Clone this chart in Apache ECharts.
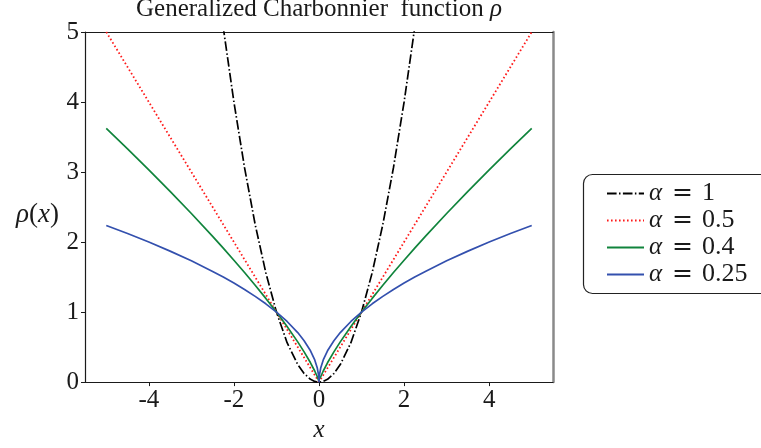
<!DOCTYPE html>
<html>
<head>
<meta charset="utf-8">
<script src="https://cdn.jsdelivr.net/npm/echarts@6/dist/echarts.min.js"></script>
<style>
  html, body { margin: 0; padding: 0; background: #fff; }
  #chart { width: 761px; height: 448px; }
</style>
</head>
<body>
<div id="chart"></div>
<script>
// Sample positions along x shared by every curve
const xs = [-5, -4.5, -4, -3.5, -3, -2.5, -2.25, -2, -1.75, -1.5, -1.25, -1, -0.75, -0.5, -0.35, -0.2, -0.1, -0.04, -0.01,
            0,
            0.01, 0.04, 0.1, 0.2, 0.35, 0.5, 0.75, 1, 1.25, 1.5, 1.75, 2, 2.25, 2.5, 3, 3.5, 4, 4.5, 5];

// rho(x) for each alpha
const rhoAlpha1 = [25, 20.25, 16, 12.25, 9, 6.25, 5.0625, 4, 3.0625, 2.25, 1.5625, 1, 0.5625, 0.25, 0.1225, 0.04, 0.01, 0.0016, 0.0001,
                   0,
                   0.0001, 0.0016, 0.01, 0.04, 0.1225, 0.25, 0.5625, 1, 1.5625, 2.25, 3.0625, 4, 5.0625, 6.25, 9, 12.25, 16, 20.25, 25];
const rhoAlpha05 = [5, 4.5, 4, 3.5, 3, 2.5, 2.25, 2, 1.75, 1.5, 1.25, 1, 0.75, 0.5, 0.35, 0.2, 0.1, 0.04, 0.01,
                    0,
                    0.01, 0.04, 0.1, 0.2, 0.35, 0.5, 0.75, 1, 1.25, 1.5, 1.75, 2, 2.25, 2.5, 3, 3.5, 4, 4.5, 5];
const rhoAlpha04 = [3.6239, 3.3311, 3.0314, 2.7243, 2.4082, 2.0814, 1.9131, 1.7411, 1.5647, 1.3832, 1.1954, 1, 0.7944, 0.5743, 0.4318, 0.2759, 0.1585, 0.0762, 0.0251,
                    0,
                    0.0251, 0.0762, 0.1585, 0.2759, 0.4318, 0.5743, 0.7944, 1, 1.1954, 1.3832, 1.5647, 1.7411, 1.9131, 2.0814, 2.4082, 2.7243, 3.0314, 3.3311, 3.6239];
const rhoAlpha025 = [2.2361, 2.1213, 2, 1.8708, 1.7321, 1.5811, 1.5, 1.4142, 1.3229, 1.2247, 1.118, 1, 0.866, 0.7071, 0.5916, 0.4472, 0.3162, 0.2, 0.1,
                     0,
                     0.1, 0.2, 0.3162, 0.4472, 0.5916, 0.7071, 0.866, 1, 1.118, 1.2247, 1.3229, 1.4142, 1.5, 1.5811, 1.7321, 1.8708, 2, 2.1213, 2.2361];

const xTicks = [-4, -2, 0, 2, 4];
const seriesNames = ['α = 1', 'α = 0.5', 'α = 0.4', 'α = 0.25'];

const pairs = ys => xs.map((x, i) => [x, ys[i]]);
const SERIF = '"Liberation Serif", "DejaVu Serif", serif';
const INK = '#1a1a1a';

const chart = echarts.init(document.getElementById('chart'), null, { renderer: 'canvas' });

const lineSeries = (name, ys, color, type, width) => ({
  name,
  type: 'line',
  data: pairs(ys),
  showSymbol: false,
  symbol: 'none',
  clip: true,
  animation: false,
  lineStyle: { color, width, type, cap: 'butt' },
  itemStyle: { color },
  z: 3
});

chart.setOption({
  animation: false,
  backgroundColor: '#fff',
  title: {
    text: 'Generalized Charbonnier  function {r|ρ}',
    left: 319,
    textAlign: 'center',
    top: -3,
    padding: 0,
    textStyle: {
      fontFamily: SERIF,
      fontSize: 25,
      fontWeight: 'normal',
      color: INK,
      rich: { r: { fontFamily: SERIF, fontStyle: 'italic', fontSize: 25, color: INK } }
    }
  },
  // legend frame, running past the right edge of the canvas
  graphic: {
    elements: [{
      type: 'rect',
      shape: { x: 583.5, y: 174.5, width: 260, height: 119, r: 9 },
      style: { fill: '#fff', stroke: '#222', lineWidth: 1.2 },
      z: 10,
      silent: true
    }]
  },
  grid: { left: 85, right: 208, top: 32, bottom: 56, containLabel: false },
  legend: {
    orient: 'vertical',
    left: 583,
    top: 175,
    padding: [5, 5, 5, 23],
    itemGap: 0,
    itemWidth: 37,
    itemHeight: 4,
    z: 20,
    data: seriesNames,
    itemStyle: { opacity: 0 },
    formatter: n => {
      const parts = n.split(' = ');
      return '{a|' + parts[0] + '}{e|=}{b|' + parts[1] + '}';
    },
    textStyle: {
      lineHeight: 27,
      rich: {
        a: { fontFamily: SERIF, fontStyle: 'italic', fontSize: 25, color: INK, lineHeight: 27 },
        e: { fontFamily: '"DejaVu Serif", serif', fontSize: 25, color: INK, lineHeight: 27, padding: [0, 9, 0, 10] },
        b: { fontFamily: SERIF, fontSize: 26, color: INK, lineHeight: 27 }
      }
    }
  },
  xAxis: [{
    type: 'value',
    min: -5.5,
    max: 5.5,
    position: 'bottom',
    name: 'x',
    nameLocation: 'middle',
    nameGap: 29,
    nameTextStyle: { fontFamily: SERIF, fontStyle: 'italic', fontSize: 25, color: INK },
    axisLine: { show: true, onZero: false, lineStyle: { color: INK, width: 1.2 } },
    axisTick: { show: true, customValues: xTicks, length: 4, inside: false, lineStyle: { color: INK, width: 1 } },
    axisLabel: {
      customValues: xTicks,
      formatter: v => String(v),
      margin: 6,
      fontFamily: SERIF, fontSize: 25, color: INK
    },
    splitLine: { show: false }
  }, {
    type: 'value',
    min: -5.5,
    max: 5.5,
    position: 'top',
    axisLine: { show: true, onZero: false, lineStyle: { color: INK, width: 1.2 } },
    axisTick: { show: false },
    axisLabel: { show: false },
    splitLine: { show: false }
  }],
  yAxis: [{
    type: 'value',
    min: 0,
    max: 5,
    interval: 1,
    position: 'left',
    name: '{r|ρ}{n|(}{r|x}{n|)}',
    nameLocation: 'middle',
    nameRotate: 0,
    nameGap: 26,
    nameTextStyle: {
      padding: [16, 0, 0, 0],
      rich: {
        r: { fontFamily: SERIF, fontStyle: 'italic', fontSize: 27, color: INK },
        n: { fontFamily: SERIF, fontSize: 27, color: INK }
      }
    },
    axisLine: { show: true, onZero: false, lineStyle: { color: INK, width: 1.2 } },
    axisTick: { show: true, length: 4, inside: false, lineStyle: { color: INK, width: 1 } },
    axisLabel: { margin: 6, fontFamily: SERIF, fontSize: 25, color: INK },
    splitLine: { show: false }
  }, {
    type: 'value',
    min: 0,
    max: 5,
    interval: 1,
    position: 'right',
    axisLine: { show: true, onZero: false, lineStyle: { color: '#8a8a8a', width: 2.5 } },
    axisTick: { show: false },
    axisLabel: { show: false },
    splitLine: { show: false }
  }],
  series: [
    lineSeries(seriesNames[0], rhoAlpha1, '#000000', [9.6, 2.4, 1.5, 2.4], 1.7),
    lineSeries(seriesNames[1], rhoAlpha05, '#ff1a1a', [1.6, 2.4], 1.8),
    lineSeries(seriesNames[2], rhoAlpha04, '#10843c', 'solid', 1.7),
    lineSeries(seriesNames[3], rhoAlpha025, '#3350ae', 'solid', 1.7)
  ]
});
</script>
</body>
</html>
